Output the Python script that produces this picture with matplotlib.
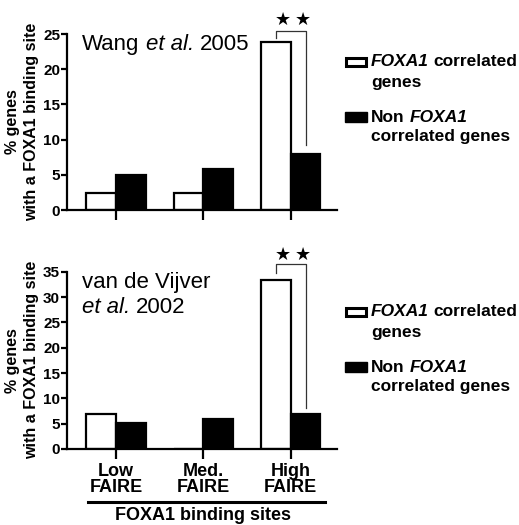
import numpy as np
import matplotlib
matplotlib.use('Agg')
import matplotlib.pyplot as plt
from matplotlib.patches import Rectangle
from matplotlib.lines import Line2D

plt.rcParams['font.family'] = ['Liberation Sans', 'DejaVu Sans']

# data
groups = ['Low\nFAIRE', 'Med.\nFAIRE', 'High\nFAIRE']
wang_corr = [2.4, 2.4, 23.8]
wang_non = [5.0, 5.8, 8.0]
vij_corr = [6.9, 0.0, 33.3]
vij_non = [5.2, 5.85, 6.9]

W, H = 519, 525
fig = plt.figure(figsize=(W/100, H/100), dpi=100)
ax1 = fig.add_axes([67/W, 1-210/H, 270/W, 176/H])
ax2 = fig.add_axes([67/W, 1-449/H, 270/W, 177.3/H])
renderer = fig.canvas.get_renderer()

def width_of(s, **kw):
    t = fig.text(0, 0, s, **kw)
    bb = t.get_window_extent(renderer)
    t.remove()
    return bb.width

def rich(x_px, y_px, pieces, size, weight='bold'):
    # pieces: list of (text, italic) drawn one after another on one line
    x = x_px
    sp = width_of('x x', fontsize=size, fontweight=weight) - width_of('xx', fontsize=size, fontweight=weight)
    for i, (s, it) in enumerate(pieces):
        style = 'italic' if it else 'normal'
        if i > 0:
            x += sp
        fig.text(x/W, 1-y_px/H, s, fontsize=size, fontweight=weight, fontstyle=style,
                 va='baseline', ha='left')
        x += width_of(s, fontsize=size, fontweight=weight, fontstyle=style)

x = np.arange(len(groups))
w = 0.34

def panel(ax, corr, non, ymax, step, brk):
    ax.bar(x - w/2, corr, w, color='white', edgecolor='black', linewidth=1.6, zorder=2)
    ax.bar(x + w/2, non, w, color='black', edgecolor='black', linewidth=1.6, zorder=2)
    ax.set_xlim(-0.56, 2.53)
    ax.set_ylim(0, ymax)
    ax.set_yticks(np.arange(0, ymax + 1, step))
    ax.set_xticks(x)
    for s in ['top', 'right']:
        ax.spines[s].set_visible(False)
    for s in ['left', 'bottom']:
        ax.spines[s].set_linewidth(1.6)
    ax.tick_params(axis='y', length=4, width=1.6, pad=1, labelsize=11)
    ax.tick_params(axis='x', length=7, width=1.6, pad=3, labelsize=13)
    for lab in ax.get_yticklabels():
        lab.set_fontweight('bold')
    ax.set_ylabel('% genes\nwith a FOXA1 binding site', fontsize=11.5, fontweight='bold',
                  linespacing=1.3)
    ax.yaxis.set_label_coords(-0.105, 0.5)
    # significance bracket
    y_top, y_left, y_right, y_star = brk
    xl, xr = 2 - w/2, 2 + w/2
    ax.plot([xl, xl, xr, xr], [y_left, y_top, y_top, y_right], color='#333333', lw=0.9,
            clip_on=False, zorder=3)
    for xs in [1.91, 2.14]:
        ax.text(xs, y_star, '\u2605', ha='center', va='center', fontsize=13,
                family='DejaVu Sans', clip_on=False)

panel(ax1, wang_corr, wang_non, 25, 5, (25.4, 24.5, 9.2, 27.0))
ax1.set_xticklabels([])
panel(ax2, vij_corr, vij_non, 35, 5, (36.5, 34.7, 8.1, 38.4))
ax2.set_xticklabels(groups, fontweight='bold', linespacing=0.95)

# panel titles
rich(82, 50, [('Wang', False), ('et al.', True), ('2005', False)], 16, weight='normal')
rich(82, 288, [('van de Vijver', False)], 16, weight='normal')
rich(82, 313, [('et al.', True), ('2002', False)], 16, weight='normal')

# x-axis group label
fig.add_artist(Line2D([88/W, 325/W], [1-502/H, 1-502/H], color='black', lw=2.2))
fig.text(203/W, 1-520/H, 'FOXA1 binding sites', ha='center', va='baseline',
         fontsize=13, fontweight='bold')

# legends drawn by hand
def legend(y1, y2):
    fig.add_artist(Rectangle((346/W, 1-(y1+4)/H), 20/W, 8/H, facecolor='white',
                             edgecolor='black', lw=2.2, transform=fig.transFigure))
    fig.add_artist(Rectangle((345/W, 1-(y2+5)/H), 22/W, 10/H, facecolor='black',
                             edgecolor='black', lw=1, transform=fig.transFigure))
    tx = 371
    rich(tx, y1 + 4.5, [('FOXA1', True), ('correlated', False)], 12.5)
    rich(tx, y1 + 24.5, [('genes', False)], 12.5)
    rich(tx, y2 + 4.5, [('Non', False), ('FOXA1', True)], 12.5)
    rich(tx, y2 + 24.5, [('correlated genes', False)], 12.5)

legend(62, 117)
legend(312, 367)

fig.savefig('out.png', dpi=100)
